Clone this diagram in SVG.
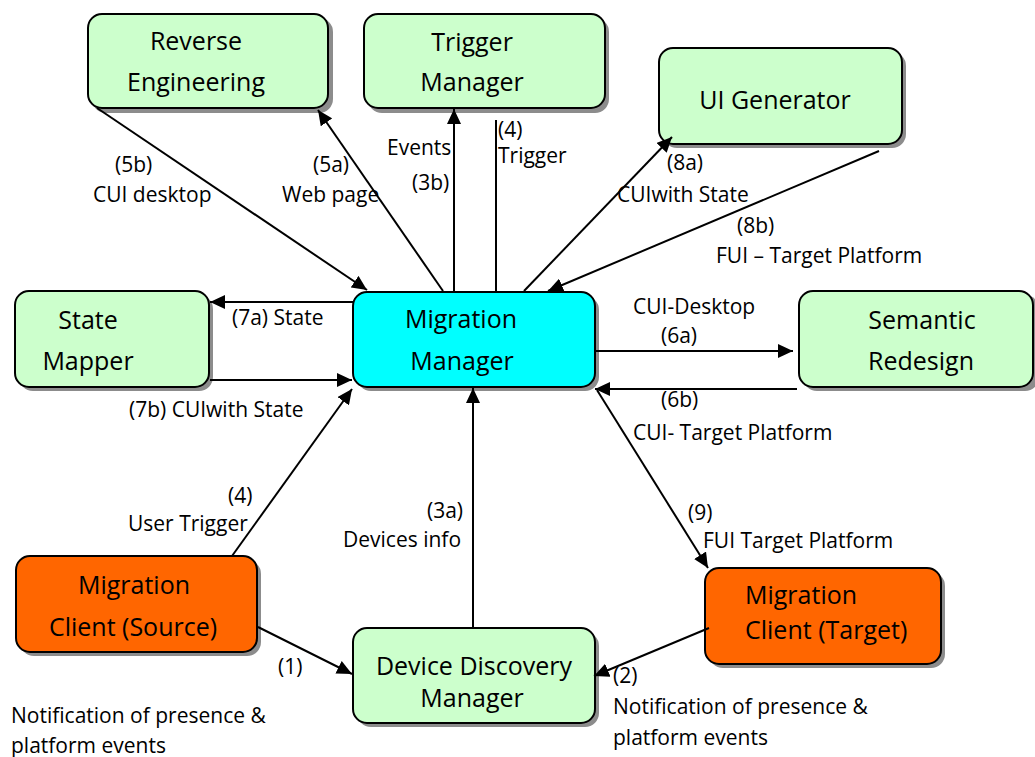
<svg xmlns="http://www.w3.org/2000/svg" width="1035" height="757" viewBox="0 0 1035 757">
<style>
.box{stroke:#000;stroke-width:2}
.g{fill:#CCFFCC}
.c{fill:#00FFFF}
.o{fill:#FF6600}
.sh{fill:#8c8c8c}
.t{font-family:"Open Sans",Lato,sans-serif;font-size:25px;fill:#000;text-anchor:middle}
.l{font-family:"Open Sans",Lato,sans-serif;font-size:21px;fill:#000}
.ln{stroke:#000;stroke-width:2;fill:none}
.a{marker-end:url(#ah)}
</style>
<defs>
<marker id="ah" markerUnits="userSpaceOnUse" markerWidth="16" markerHeight="14" refX="15" refY="7" orient="auto">
<path d="M0,0 L15,7 L0,14 z" fill="#000"/>
</marker>
</defs>
<rect width="1035" height="757" fill="#fff"/>

<g id="reverse-engineering">
<rect class="sh" x="92" y="18" width="241" height="95" rx="14"/>
<rect class="box g" x="88" y="14" width="240" height="94" rx="14"/>
<text class="t" x="196" y="50">Reverse</text>
<text class="t" x="196" y="91">Engineering</text>
</g>
<g id="trigger-manager">
<rect class="sh" x="368" y="18" width="241" height="95" rx="14"/>
<rect class="box g" x="364" y="14" width="241" height="94" rx="14"/>
<text class="t" x="472" y="51">Trigger</text>
<text class="t" x="472" y="91">Manager</text>
</g>
<g id="ui-generator">
<rect class="sh" x="663" y="52" width="243" height="96" rx="14"/>
<rect class="box g" x="659" y="48" width="243" height="96" rx="14"/>
<text class="t" x="775" y="109">UI Generator</text>
</g>
<g id="state-mapper">
<rect class="sh" x="19" y="295" width="194" height="96" rx="14"/>
<rect class="box g" x="15" y="291" width="194" height="96" rx="14"/>
<text class="t" x="88" y="329">State</text>
<text class="t" x="88" y="370">Mapper</text>
</g>
<g id="migration-manager">
<rect class="sh" x="357" y="296" width="242" height="95" rx="14"/>
<rect class="box c" x="353" y="292" width="242" height="95" rx="14"/>
<text class="t" x="461" y="328">Migration</text>
<text class="t" x="462" y="370">Manager</text>
</g>
<g id="semantic-redesign">
<rect class="sh" x="803" y="295" width="236" height="96" rx="14"/>
<rect class="box g" x="799" y="291" width="234" height="96" rx="14"/>
<text class="t" x="922" y="329">Semantic</text>
<text class="t" x="921" y="370">Redesign</text>
</g>
<g id="migration-client-source">
<rect class="sh" x="20" y="560" width="241" height="96" rx="14"/>
<rect class="box o" x="16" y="556" width="241" height="96" rx="14"/>
<text class="t" x="134" y="594">Migration</text>
<text class="t" x="133" y="636">Client (Source)</text>
</g>
<g id="device-discovery-manager">
<rect class="sh" x="357" y="632" width="242" height="95" rx="14"/>
<rect class="box g" x="353" y="628" width="242" height="95" rx="14"/>
<text class="t" x="474" y="675">Device Discovery</text>
<text class="t" x="472" y="707">Manager</text>
</g>
<g id="migration-client-target">
<rect class="sh" x="709" y="572" width="236" height="96" rx="14"/>
<rect class="box o" x="705" y="568" width="236" height="96" rx="14"/>
<text class="t" x="745" y="604" style="text-anchor:start">Migration</text>
<text class="t" x="745" y="639" style="text-anchor:start">Client (Target)</text>
</g>

<g id="connectors">
<line class="ln a" x1="97" y1="108" x2="367" y2="290"/>
<line class="ln a" x1="443" y1="291" x2="318" y2="110"/>
<line class="ln a" x1="454" y1="291" x2="454" y2="109"/>
<line class="ln" x1="496" y1="291" x2="496" y2="120"/>
<line class="ln a" x1="524" y1="291" x2="672" y2="137"/>
<line class="ln a" x1="879" y1="151" x2="548" y2="291"/>
<line class="ln a" x1="353" y1="302" x2="210" y2="302"/>
<line class="ln a" x1="210" y1="380" x2="352" y2="380"/>
<line class="ln a" x1="596" y1="351" x2="793" y2="351"/>
<line class="ln a" x1="797" y1="389" x2="595" y2="389"/>
<line class="ln a" x1="232" y1="556" x2="352" y2="389"/>
<line class="ln a" x1="473" y1="628" x2="473" y2="388"/>
<line class="ln a" x1="258" y1="627" x2="352" y2="674"/>
<line class="ln a" x1="709" y1="628" x2="594" y2="676"/>
<line class="ln a" x1="597" y1="390" x2="708" y2="568"/>
</g>

<g id="labels">
<text class="l" x="115" y="172">(5b)</text>
<text class="l" x="93" y="202">CUI desktop</text>
<text class="l" x="313" y="172">(5a)</text>
<text class="l" x="282" y="202">Web page</text>
<text class="l" x="387" y="155">Events</text>
<text class="l" x="412" y="190">(3b)</text>
<text class="l" x="498" y="137">(4)</text>
<text class="l" x="498" y="163">Trigger</text>
<text class="l" x="667" y="170">(8a)</text>
<text class="l" x="617" y="202">CUIwith State</text>
<text class="l" x="737" y="233">(8b)</text>
<text class="l" x="716" y="263">FUI – Target Platform</text>
<text class="l" x="232" y="325">(7a) State</text>
<text class="l" x="129" y="417">(7b) CUIwith State</text>
<text class="l" x="633" y="314">CUI-Desktop</text>
<text class="l" x="661" y="343">(6a)</text>
<text class="l" x="661" y="407">(6b)</text>
<text class="l" x="633" y="440">CUI- Target Platform</text>
<text class="l" x="228" y="503">(4)</text>
<text class="l" x="128" y="531">User Trigger</text>
<text class="l" x="427" y="518">(3a)</text>
<text class="l" x="343" y="547">Devices info</text>
<text class="l" x="278" y="674">(1)</text>
<text class="l" x="11" y="723">Notification of presence &amp;</text>
<text class="l" x="11" y="753">platform events</text>
<text class="l" x="688" y="520">(9)</text>
<text class="l" x="703" y="548">FUI Target Platform</text>
<text class="l" x="613" y="683">(2)</text>
<text class="l" x="613" y="714">Notification of presence &amp;</text>
<text class="l" x="613" y="745">platform events</text>
</g>
</svg>
